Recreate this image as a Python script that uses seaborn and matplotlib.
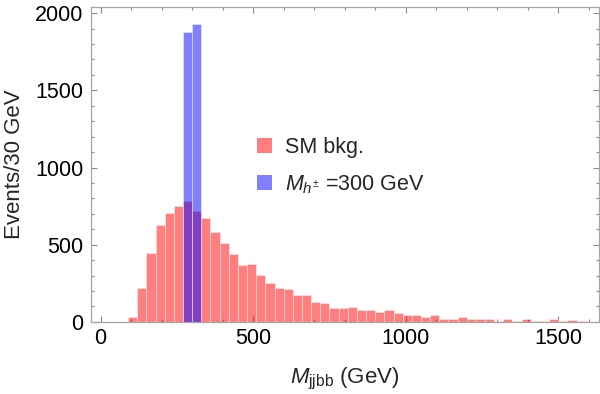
import numpy as np
import pandas as pd
import matplotlib
matplotlib.use("Agg")
import matplotlib.pyplot as plt
from matplotlib.patches import Patch
from matplotlib.ticker import MultipleLocator
import seaborn as sns

# 30 GeV bins, lower edges (GeV)
bin_width = 30
bkg_lo = np.arange(90, 1590, bin_width)
bkg_counts = [33, 217, 448, 625, 705, 753, 785, 718, 671, 584,
              509, 437, 368, 374, 301, 253, 217, 210, 174, 174,
              130, 124, 90, 90, 96, 77, 77, 61, 74, 59,
              44, 44, 33, 42, 22, 22, 29, 22, 22, 18,
              7, 20, 7, 16, 9, 9, 16, 5, 12, 5]

sig_lo = np.array([270, 300])
sig_counts = [1880, 1933]

sns.set_style("ticks")
plt.rcParams["font.family"] = ["Liberation Sans", "DejaVu Sans"]
plt.rcParams["mathtext.fontset"] = "custom"
plt.rcParams["mathtext.rm"] = "Liberation Sans"
plt.rcParams["mathtext.it"] = "Liberation Sans:italic"

red = (1, 0, 0)
blue = (0, 0, 1)

bkg = pd.DataFrame({"m": bkg_lo + bin_width / 2, "n": bkg_counts})
sig = pd.DataFrame({"m": sig_lo + bin_width / 2, "n": sig_counts})

fig = plt.figure(figsize=(6, 3.94), dpi=100)
ax = fig.add_axes([0.151, 0.183, 0.847, 0.800])

sns.histplot(data=bkg, x="m", weights="n", binwidth=bin_width,
             binrange=(bkg_lo[0], bkg_lo[-1] + bin_width),
             color=red, alpha=0.5, edgecolor=(1, 1, 1, 0.5), linewidth=0.6, ax=ax)

sns.histplot(data=sig, x="m", weights="n", binwidth=bin_width,
             binrange=(sig_lo[0], sig_lo[-1] + bin_width),
             color=blue, alpha=0.5, edgecolor=(1, 1, 1, 0.5), linewidth=0.6, ax=ax)

ax.set_xlim(-33, 1633)
ax.set_ylim(0, 2042)
ax.xaxis.set_major_locator(MultipleLocator(500))
ax.xaxis.set_minor_locator(MultipleLocator(100))
ax.yaxis.set_major_locator(MultipleLocator(500))
ax.yaxis.set_minor_locator(MultipleLocator(100))

for s in ax.spines.values():
    s.set_color("#a6a6a6")
    s.set_linewidth(0.9)
ax.tick_params(which="both", direction="in", top=True, right=True,
               color="#8a8a8a", width=0.8, labelsize=15.5, labelcolor="black")
ax.tick_params(which="major", length=4.5)
ax.tick_params(which="minor", length=2.5)
ax.tick_params(axis="x", pad=4.3)
ax.tick_params(axis="y", pad=5)

ax.set_xlabel(r"$M_{\mathrm{jjbb}}$ (GeV)", fontsize=16, labelpad=12)
ax.set_ylabel("Events/30 GeV", fontsize=16, labelpad=7.5)

handles = [Patch(facecolor=red, alpha=0.5, edgecolor="none"),
           Patch(facecolor=blue, alpha=0.5, edgecolor="none")]
ax.legend(handles, ["SM bkg.", r"$M_{h^{\pm}}$ =300 GeV"], loc="upper left",
          bbox_to_anchor=(0.327, 0.586), frameon=False, fontsize=15.5,
          handlelength=0.7, handleheight=0.7, handletextpad=0.6,
          labelspacing=0.7, borderpad=0, borderaxespad=0)

fig.savefig("out.png", dpi=100)
